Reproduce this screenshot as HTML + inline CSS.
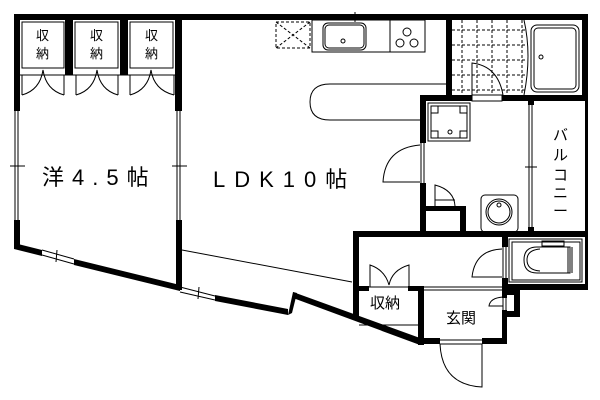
<!DOCTYPE html>
<html><head><meta charset="utf-8"><style>
html,body{margin:0;padding:0;background:#fff}
svg{display:block}
text{font-family:"Liberation Sans","Noto Sans CJK JP",sans-serif;fill:#000}
</style></head><body>
<svg width="600" height="400" viewBox="0 0 600 400" xmlns="http://www.w3.org/2000/svg">
<g fill="#000">
<rect x="14" y="14" width="574" height="6"/>
<rect x="14" y="14" width="6" height="97"/>
<rect x="14" y="220" width="6" height="26"/>
<rect x="65" y="20" width="8" height="55"/>
<rect x="120" y="20" width="8" height="55"/>
<rect x="175" y="14" width="7" height="97"/>
<rect x="176" y="220" width="6" height="70"/>
<polygon points="14,243 42,250 42,256 14,249"/>
<polygon points="74,259 180,285 180,291 74,265"/>
<polygon points="215,295 288,309 288,315 215,301"/>
<polygon points="288,315 293,292 297,293 292,313"/>
<rect x="446" y="14" width="6" height="87"/>
<rect x="582" y="14" width="6" height="87"/>
<rect x="420" y="95" width="168" height="6"/>
<rect x="420" y="95" width="6" height="48"/>
<rect x="420" y="183" width="6" height="54"/>
<rect x="426" y="206" width="40" height="5"/>
<rect x="460" y="206" width="6" height="25"/>
<rect x="585" y="101" width="3" height="189"/>
<rect x="528" y="101" width="6" height="4"/>
<rect x="528" y="227" width="6" height="4"/>
<rect x="353" y="231" width="235" height="6"/>
<rect x="353" y="231" width="6" height="86"/>
<rect x="502" y="237" width="6" height="10"/>
<rect x="502" y="278" width="6" height="12"/>
<rect x="502" y="284" width="86" height="6"/>
<rect x="502" y="290" width="5" height="8"/>
<rect x="504" y="290" width="16" height="5"/>
<rect x="514" y="290" width="6" height="27"/>
<rect x="506" y="311" width="14" height="6"/>
<rect x="418" y="287" width="6" height="58"/>
<rect x="359" y="286" width="10" height="5"/>
<rect x="408" y="286" width="16" height="5"/>
<rect x="418" y="338" width="22" height="6"/>
<rect x="482" y="338" width="24" height="6"/>
<rect x="502" y="310" width="5" height="34"/>
<polygon points="293,292 420,338 420,345 293,298"/>
</g>
<g fill="none" stroke="#000" stroke-width="1">
<rect x="22" y="22" width="42" height="46"/>
<rect x="75" y="22" width="43" height="46"/>
<rect x="130" y="22" width="43" height="46"/>
<line x1="20" y1="75" x2="175" y2="75"/>
<path d="M22 95 Q40 90 43 70 Q46 90 64 95 M22 75 V95 M64 75 V95"/>
<path d="M76 95 Q94 90 97 70 Q100 90 118 95 M76 75 V95 M118 75 V95"/>
<path d="M130 95 Q148 90 151 70 Q154 90 174 95 M130 75 V95 M174 75 V95"/>
<path d="M15 111 V220 M18 111 V220 M10 166 H25"/>
<path d="M177 111 V220 M180 111 V220 M172 166 H187"/>
<path d="M42 250 L74 259 M42 255 L74 264 M57 250 L56 262"/>
<path d="M180 287 L215 296 M180 292 L215 300 M199 287 L198 299"/>
<line x1="182" y1="250" x2="352" y2="282"/>
<rect x="276" y="22" width="34" height="26" stroke-dasharray="3,2"/>
<path d="M276 22 L310 48 M310 22 L276 48" stroke-dasharray="3,2"/>
<path d="M320 15 H390 M320 18 H390 M355 12 V22"/>
<rect x="312" y="20" width="113" height="32"/>
<rect x="323" y="23" width="43" height="27" rx="5"/>
<rect x="325" y="25" width="39" height="23" rx="4"/>
<circle cx="343" cy="41" r="2"/>
<line x1="390" y1="20" x2="390" y2="52"/>
<circle cx="407" cy="32" r="4"/><circle cx="400" cy="43" r="4"/><circle cx="414" cy="43" r="4"/>
<path d="M446 84 H330 Q310 84 310 102 Q310 120 330 120 H420"/>
<path d="M462 20 V95 M477 20 V95 M492 20 V95 M507 20 V95 M522 20 V95 M452 30 H525 M452 45 H525 M452 60 H525 M452 75 H525 M452 90 H525" stroke-dasharray="3,2"/>
<path d="M524 20 Q532 55 524 95"/>
<rect x="531" y="25" width="48" height="67" rx="6"/>
<rect x="534" y="28" width="42" height="61" rx="4"/>
<circle cx="541" cy="57" r="2"/>
<rect x="472" y="95" width="30" height="6" fill="#fff"/>
<path d="M472 95 V63 Q498 66 503 95"/>
<rect x="428" y="103" width="42" height="38"/>
<rect x="431" y="106" width="36" height="32"/>
<path d="M431 113 H438 V106 M460 106 V113 H467 M431 131 H438 V138 M460 138 V131 H467"/>
<circle cx="450" cy="132" r="2"/>
<path d="M421 143 V183 M424 143 V183 M420 145 Q385 148 383 182 H420"/>
<path d="M529 105 V227 M532 105 V227 M525 167 H537"/>
<path d="M435 206 V185 Q454 190 455 206 M435 200 H455"/>
<rect x="481" y="195" width="37" height="37" rx="4"/>
<circle cx="499" cy="212" r="13"/><circle cx="499" cy="212" r="11"/>
<circle cx="499" cy="205" r="2"/>
<rect x="509" y="239" width="73" height="43"/>
<rect x="512" y="242" width="68" height="38"/>
<rect x="542" y="241" width="22" height="5"/>
<path d="M545 273 H537 Q524 273 524 260 Q524 247 537 247 H570 V273 H545"/>
<path d="M540 271 Q527 270 527 260 Q527 250 540 249"/>
<path d="M568 247 V273 M572 247 V273"/>
<path d="M503 247 V278 M506 247 V278 M502 249 Q475 250 472 277 H502"/>
<line x1="359" y1="287" x2="502" y2="287"/>
<line x1="424" y1="290" x2="502" y2="290"/>
<path d="M370 287 V265 Q385 270 389 285 Q392 270 409 265 V287"/>
<line x1="359" y1="325" x2="418" y2="325"/>
<path d="M503 298 V310 M506 298 V310 M503 297 Q490 298 489 306 H503"/>
<path d="M440 340 H482 M440 344 H482 M482 344 V387 Q442 385 440 344"/>
</g>
<g font-size="13">
<text x="36" y="40">収</text><text x="36" y="58">納</text>
<text x="90" y="40">収</text><text x="90" y="58">納</text>
<text x="145" y="40">収</text><text x="145" y="58">納</text>
</g>
<text x="42" y="185" font-size="22" letter-spacing="8">洋4.5帖</text>
<text x="213" y="187" font-size="22" letter-spacing="9">LDK10帖</text>
<text x="370" y="308" font-size="15">収納</text>
<text x="446" y="323" font-size="15">玄関</text>
<g font-size="15"><text x="553" y="140">バ</text><text x="553" y="160">ル</text><text x="553" y="180">コ</text><text x="553" y="198">ニ</text><text x="553" y="216">ー</text></g>
</svg>
</body></html>
